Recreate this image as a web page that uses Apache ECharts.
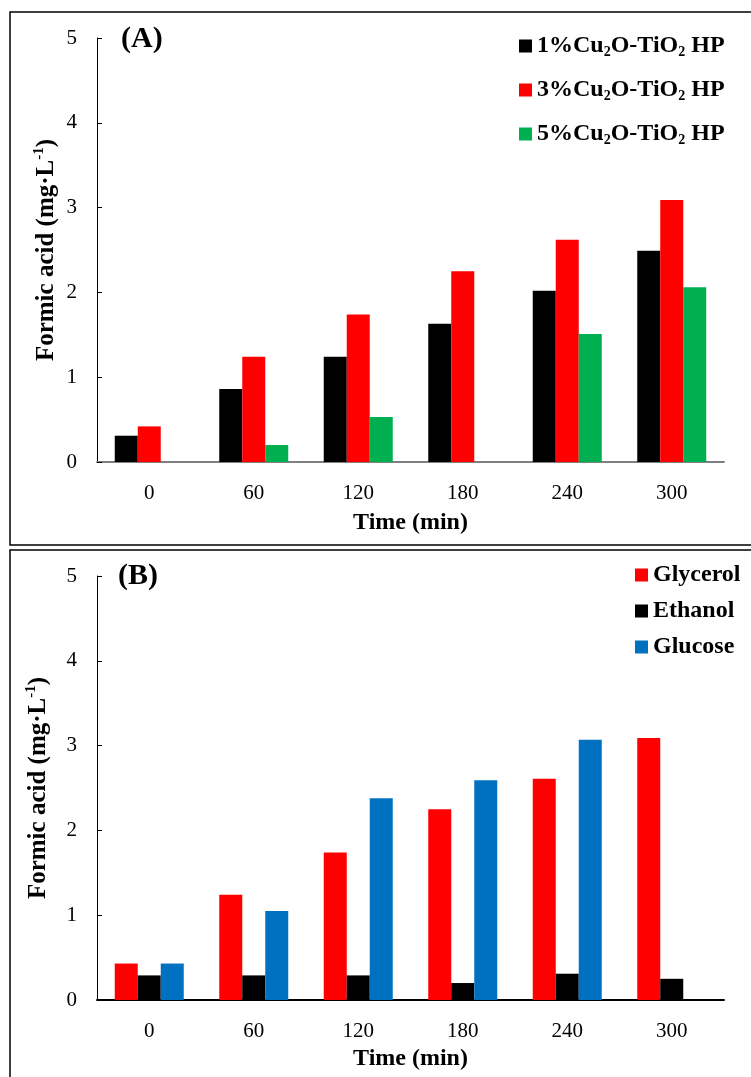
<!DOCTYPE html>
<html lang="en">
<head>
    <meta charset="UTF-8">
    <title>Formic acid</title>
    <script src="https://cdn.jsdelivr.net/npm/echarts@6/dist/echarts.min.js"></script>
    <style>
        body { margin: 0; background: #fff; }
    </style>
</head>
<body>
<div id="main" style="width: 751px;height:1077px;"></div>
<script type="text/javascript">
    // time points (min)
    var times = ['0', '60', '120', '180', '240', '300'];
    var yTicks = [0, 1, 2, 3, 4, 5];

    // panel A: catalyst loading
    var cu1 = [0.31, 0.86, 1.24, 1.63, 2.02, 2.49];
    var cu3 = [0.42, 1.24, 1.74, 2.25, 2.62, 3.09];
    var cu5 = [null, 0.20, 0.53, null, 1.51, 2.06];

    // panel B: sacrificial agent
    var glycerol = [0.43, 1.24, 1.74, 2.25, 2.61, 3.09];
    var ethanol = [0.29, 0.29, 0.29, 0.20, 0.31, 0.25];
    var glucose = [0.43, 1.05, 2.38, 2.59, 3.07, null];

    var serif = 'Liberation Serif';
    var myChart = echarts.init(document.getElementById('main'));

    function xAxisOf(idx, lineColor, gap) {
        return {
            type: 'category',
            gridIndex: idx,
            data: times,
            name: 'Time (min)',
            nameLocation: 'middle',
            nameGap: gap,
            nameMoveOverlap: false,
            nameTextStyle: {fontFamily: serif, fontSize: 24, fontWeight: 'bold', color: '#000'},
            axisLine: {lineStyle: {color: lineColor, width: 2}},
            axisTick: {inside: true, length: 6, lineStyle: {color: '#404040'}},
            axisLabel: {fontFamily: serif, fontSize: 21, color: '#000', margin: 21}
        };
    }

    function yAxisOf(idx, gap) {
        return {
            type: 'value',
            gridIndex: idx,
            min: yTicks[0],
            max: yTicks[yTicks.length - 1],
            interval: 1,
            name: '{n|Formic acid (mg·L}{sup|-1}{n|)}',
            nameLocation: 'middle',
            nameRotate: 90,
            nameGap: gap,
            nameMoveOverlap: false,
            nameTextStyle: {
                rich: {
                    n: {fontFamily: serif, fontSize: 25, fontWeight: 'bold', color: '#000', lineHeight: 30},
                    sup: {fontFamily: serif, fontSize: 15, fontWeight: 'bold', color: '#000', verticalAlign: 'top', lineHeight: 30}
                }
            },
            splitLine: {show: false},
            axisLine: {show: true, lineStyle: {color: '#000', width: 1}},
            axisTick: {show: true, inside: true, length: 5, lineStyle: {color: '#000'}},
            axisLabel: {fontFamily: serif, fontSize: 21, color: '#000', margin: 20}
        };
    }

    function barOf(name, data, color, idx) {
        return {
            name: name,
            type: 'bar',
            xAxisIndex: idx,
            yAxisIndex: idx,
            data: data,
            barWidth: 23,
            barGap: '0%',
            itemStyle: {color: color}
        };
    }

    var legendRich = {
        t: {fontFamily: serif, fontSize: 24, fontWeight: 'bold', color: '#000', lineHeight: 26},
        s: {fontFamily: serif, fontSize: 14, fontWeight: 'bold', color: '#000', verticalAlign: 'bottom', lineHeight: 26}
    };

    var option = {
        animation: false,
        graphic: [
            {type: 'rect', shape: {x: 10, y: 12, width: 760, height: 533},
                style: {fill: 'none', stroke: '#000', lineWidth: 1.5}},
            {type: 'rect', shape: {x: 10, y: 550, width: 760, height: 540},
                style: {fill: 'none', stroke: '#000', lineWidth: 1.5}},
            {type: 'text', left: 121, top: 24,
                style: {text: '(A)', fontFamily: serif, fontSize: 30, fontWeight: 'bold', fill: '#000'}},
            {type: 'text', left: 118, top: 561,
                style: {text: '(B)', fontFamily: serif, fontSize: 30, fontWeight: 'bold', fill: '#000'}}
        ],
        grid: [
            {left: 97, top: 38, width: 627, height: 424, outerBoundsMode: 'none'},
            {left: 97, top: 576, width: 627, height: 424, outerBoundsMode: 'none'}
        ],
        legend: [
            {
                data: ['1%Cu2O-TiO2 HP', '3%Cu2O-TiO2 HP', '5%Cu2O-TiO2 HP'],
                orient: 'vertical',
                left: 514,
                top: 29,
                itemWidth: 13,
                itemHeight: 13,
                itemGap: 19,
                icon: 'rect',
                formatter: function (name) {
                    var pct = name.split('Cu')[0];
                    return '{t|' + pct + 'Cu}{s|2}{t|O-TiO}{s|2}{t| HP}';
                },
                textStyle: {rich: legendRich}
            },
            {
                data: ['Glycerol', 'Ethanol', 'Glucose'],
                orient: 'vertical',
                left: 630,
                top: 557,
                itemWidth: 13,
                itemHeight: 13,
                itemGap: 10,
                icon: 'rect',
                textStyle: {fontFamily: serif, fontSize: 24, fontWeight: 'bold', color: '#000', lineHeight: 26}
            }
        ],
        xAxis: [xAxisOf(0, '#808080', 49), xAxisOf(1, '#000', 47)],
        yAxis: [yAxisOf(0, 35), yAxisOf(1, 43)],
        series: [
            barOf('1%Cu2O-TiO2 HP', cu1, '#000000', 0),
            barOf('3%Cu2O-TiO2 HP', cu3, '#FF0000', 0),
            barOf('5%Cu2O-TiO2 HP', cu5, '#00B050', 0),
            barOf('Glycerol', glycerol, '#FF0000', 1),
            barOf('Ethanol', ethanol, '#000000', 1),
            barOf('Glucose', glucose, '#0070C0', 1)
        ]
    };
    myChart.setOption(option);
</script>
</body>
</html>
